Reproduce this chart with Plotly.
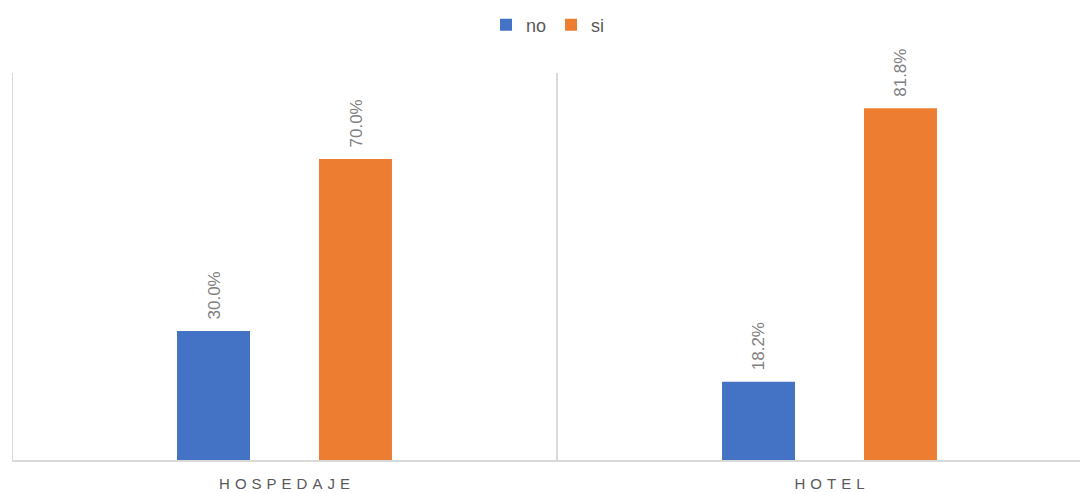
import plotly.graph_objects as go

categories = ["HOSPEDAJE", "HOTEL"]
series_names = ["no", "si"]
no_values = [0.300, 0.182]
si_values = [0.700, 0.818]
colors = {"no": "#4472C4", "si": "#ED7D31"}

FONT = "Liberation Sans, Arial"
W, H = 1080, 485
L, R, T, B = 4, 4, 65, 33
CAT_PX = 545  # pixel width of one category band
x_max = -0.5 + (W - L - R) / CAT_PX

fig = go.Figure()
for name, vals in zip(series_names, [no_values, si_values]):
    fig.add_trace(go.Bar(
        name=name, x=categories, y=vals,
        marker=dict(color=colors[name], line=dict(width=0)),
    ))

# data labels, rotated, above each bar
offsets = {"no": -71, "si": 71}
for name, vals in zip(series_names, [no_values, si_values]):
    for c, v in zip(categories, vals):
        fig.add_annotation(
            x=c, y=v, text=f"{v*100:.1f}%", showarrow=False,
            textangle=-90, xanchor="center", yanchor="bottom",
            xshift=offsets[name], yshift=9,
            font=dict(family=FONT, size=17, color="#808080"),
        )

# category separators
for xv in [-0.5, 0.5]:
    fig.add_shape(type="line", xref="x", yref="paper", x0=xv, x1=xv, y0=0, y1=1,
                  line=dict(color="#d9d9d9", width=2))

fig.update_layout(
    width=W, height=H,
    margin=dict(l=L, r=R, t=T, b=B, autoexpand=False),
    paper_bgcolor="white", plot_bgcolor="white",
    barmode="group", bargap=0.479, bargroupgap=0.486,
    showlegend=True,
    legend=dict(orientation="h", x=0.5, xanchor="center", y=1 - 17 / H, yref="container",
                yanchor="middle", font=dict(family=FONT, size=18, color="#595959"),
                itemwidth=30, traceorder="normal"),
    xaxis=dict(range=[-0.5, x_max], showgrid=False, zeroline=False,
               showline=True, linecolor="#d9d9d9", linewidth=2,
               tickfont=dict(family=FONT, size=15, color="#595959"),
               ticks="", ticklabelstandoff=9),
    yaxis=dict(range=[0, 0.9], showticklabels=False, showgrid=False, zeroline=False,
               showline=False),
)

fig.write_html(
    "out.html",
    post_script="document.querySelectorAll('.xtick text').forEach(function(t){t.style.letterSpacing='5px';t.setAttribute('dx','2.5');});",
)
